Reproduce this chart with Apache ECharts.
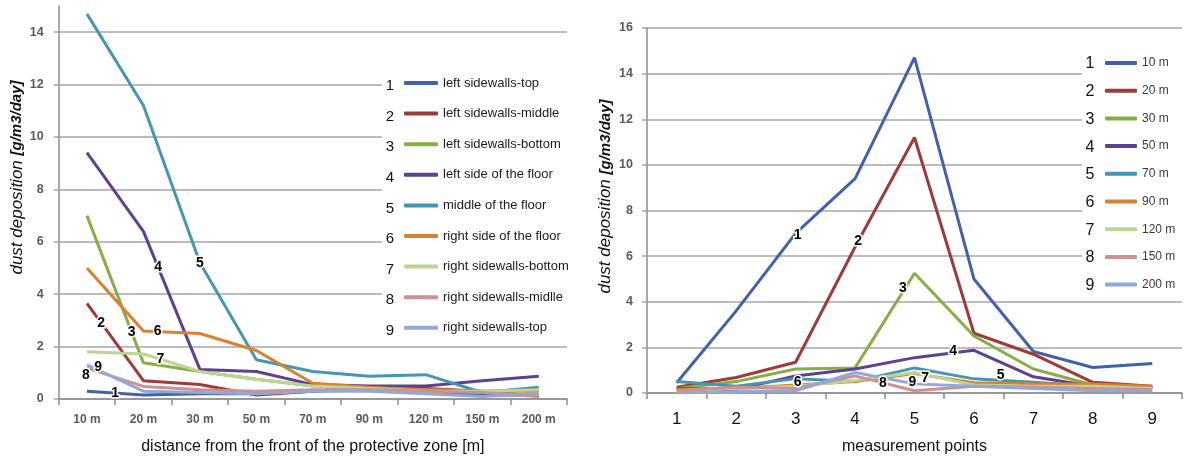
<!DOCTYPE html>
<html><head><meta charset="utf-8">
<script src="https://cdn.jsdelivr.net/npm/echarts@6/dist/echarts.min.js"></script>
<style>html,body{margin:0;padding:0;background:#fff}#c{width:1187px;height:460px}</style>
</head><body><div id="c"></div>
<script>
// ---- data ----
const leftCats = ['10 m','20 m','30 m','50 m','70 m','90 m','120 m','150 m','200 m'];
const rightCats = ['1','2','3','4','5','6','7','8','9'];
const leftNames = ['left sidewalls-top','left sidewalls-middle','left sidewalls-bottom','left side of the floor','middle of the floor','right side of the floor','right sidewalls-bottom','right sidewalls-midlle','right sidewalls-top'];
const rightNames = ['10 m','20 m','30 m','50 m','70 m','90 m','120 m','150 m','200 m'];
const leftTicks = [0,2,4,6,8,10,12,14];
const rightTicks = [0,2,4,6,8,10,12,14,16];

const s1 = [0.3, 0.15, 0.2, 0.2, 0.3, 0.35, 0.25, 0.15, 0.15];
const s2 = [3.65, 0.7, 0.55, 0.15, 0.3, 0.45, 0.4, 0.3, 0.1];
const s3 = [7.0, 1.38, 1.05, 0.75, 0.5, 0.4, 0.35, 0.3, 0.35];
const s4 = [9.4, 6.4, 1.13, 1.05, 0.55, 0.5, 0.5, 0.7, 0.87];
const s5 = [14.7, 11.2, 5.2, 1.5, 1.05, 0.87, 0.93, 0.25, 0.45];
const s6 = [5.0, 2.6, 2.5, 1.85, 0.6, 0.45, 0.35, 0.3, 0.3];
const s7 = [1.8, 1.72, 1.05, 0.75, 0.5, 0.4, 0.3, 0.3, 0.35];
const s8 = [1.18, 0.48, 0.35, 0.3, 0.35, 0.35, 0.3, 0.25, 0.1];
const s9 = [1.3, 0.3, 0.25, 0.2, 0.3, 0.3, 0.2, 0.1, 0.2];

const r10  = [0.45, 3.6, 7.0, 9.4, 14.7, 5.0, 1.82, 1.12, 1.29];
const r20  = [0.25, 0.68, 1.35, 6.4, 11.2, 2.62, 1.7, 0.47, 0.3];
const r30  = [0.2, 0.5, 1.05, 1.1, 5.25, 2.5, 1.05, 0.35, 0.25];
const r50  = [0.2, 0.15, 0.75, 1.05, 1.55, 1.87, 0.71, 0.3, 0.25];
const r70  = [0.5, 0.3, 0.63, 0.5, 1.1, 0.62, 0.47, 0.3, 0.25];
const r90  = [0.15, 0.2, 0.35, 0.5, 0.85, 0.45, 0.4, 0.4, 0.3];
const r120 = [0.1, 0.2, 0.3, 0.55, 0.9, 0.35, 0.3, 0.3, 0.2];
const r150 = [0.1, 0.25, 0.2, 0.75, 0.1, 0.3, 0.25, 0.2, 0.15];
const r200 = [0.0, 0.05, 0.1, 0.9, 0.4, 0.3, 0.2, 0.1, 0.1];

const leftData = [s1,s2,s3,s4,s5,s6,s7,s8,s9];
const rightData = [r10,r20,r30,r50,r70,r90,r120,r150,r200];

// ---- styles ----
const colors = ['#4062a9','#9c3b3a','#86ae45','#5e418e','#4596b0','#d98131','#bcd594','#cf908f','#90a8da'];
// on-line number annotations: series, segment index, fraction along segment, pixel nudge
const leftMarks = [
  {t:'1', s:0, i:0, f:0.5, dx:0, dy:0},
  {t:'2', s:1, i:0, f:0.25, dx:0, dy:0},
  {t:'3', s:2, i:0, f:0.79, dx:0, dy:0},
  {t:'4', s:3, i:1, f:0.26, dx:0, dy:0},
  {t:'5', s:4, i:2, f:0, dx:0, dy:0},
  {t:'6', s:5, i:1, f:0.25, dx:0, dy:0},
  {t:'7', s:6, i:1, f:0.3, dx:0, dy:0},
  {t:'8', s:7, i:0, f:0, dx:-1, dy:7},
  {t:'9', s:8, i:0, f:0.2, dx:0, dy:-3}
];
const rightMarks = [
  {t:'1', s:0, i:2, f:0, dx:2, dy:2},
  {t:'2', s:1, i:3, f:0.05, dx:0, dy:0},
  {t:'3', s:2, i:3, f:0.84, dx:-2, dy:0},
  {t:'4', s:3, i:4, f:0.65, dx:0, dy:-2},
  {t:'5', s:4, i:5, f:0.45, dx:0, dy:-5},
  {t:'6', s:5, i:2, f:0, dx:2, dy:-3},
  {t:'7', s:6, i:4, f:0.18, dx:0, dy:3},
  {t:'8', s:7, i:3, f:0.47, dx:0, dy:0},
  {t:'9', s:8, i:4, f:0, dx:-2, dy:-2}
];

const gridColor = '#a6a6a6';
const axisColor = '#8c8c8c';
const ytitle = '{a|dust deposition }{b|[g/m3/day]}';

const chart = echarts.init(document.getElementById('c'));

function makeSeries(names, data, axisIdx) {
  return names.map((n, k) => ({
    name: n, type: 'line', xAxisIndex: axisIdx, yAxisIndex: axisIdx,
    data: data[k], symbol: 'none', showSymbol: false, smooth: false,
    lineStyle: {width: 3, color: colors[k]}, itemStyle: {color: colors[k]},
    z: 2 + k
  }));
}

const option = {
  animation: false,
  grid: [
    {left: 58.7, right: 620, top: 6, bottom: 55},
    {left: 647, right: 5, top: 28, bottom: 62.5}
  ],
  xAxis: [
    {type: 'category', gridIndex: 0, data: leftCats, boundaryGap: true,
     axisLine: {lineStyle: {color: axisColor, width: 1.5}},
     axisTick: {show: true, length: 6, lineStyle: {color: axisColor, width: 1.5}},
     axisLabel: {color: '#5a5a5a', fontSize: 12, fontWeight: 'bold', fontFamily: 'Liberation Sans', margin: 15},
     name: 'distance from the front of the protective zone [m]', nameLocation: 'middle', nameGap: 40,
     nameTextStyle: {color: '#111', fontSize: 16, fontFamily: 'Liberation Sans'}},
    {type: 'category', gridIndex: 1, data: rightCats, boundaryGap: true,
     axisLine: {lineStyle: {color: axisColor, width: 1.5}},
     axisTick: {show: true, length: 6, lineStyle: {color: axisColor, width: 1.5}},
     axisLabel: {color: '#111', fontSize: 17, fontFamily: 'Liberation Sans', margin: 18},
     name: 'measurement points', nameLocation: 'middle', nameGap: 46,
     nameTextStyle: {color: '#111', fontSize: 16, fontFamily: 'Liberation Sans'}}
  ],
  yAxis: [
    {type: 'value', gridIndex: 0, min: leftTicks[0], max: 15, interval: leftTicks[1] - leftTicks[0],
     axisLine: {show: true, lineStyle: {color: axisColor, width: 1.5}},
     axisTick: {show: true, length: 5, lineStyle: {color: gridColor, width: 1.5}},
     axisLabel: {color: '#5a5a5a', fontSize: 12.5, fontWeight: 'bold', fontFamily: 'Liberation Sans', margin: 15, showMaxLabel: false},
     splitLine: {show: true, showMaxLine: false, lineStyle: {color: gridColor, width: 1.5}},
     name: ytitle, nameLocation: 'middle', nameGap: 33,
     nameTextStyle: {padding: [0, 0, 0, 50], rich: {
       a: {fontStyle: 'italic', fontSize: 17, color: '#111', fontFamily: 'Liberation Sans'},
       b: {fontStyle: 'italic', fontWeight: 'bold', fontSize: 15, color: '#111', fontFamily: 'Liberation Sans'}}}},
    {type: 'value', gridIndex: 1, min: rightTicks[0], max: rightTicks[rightTicks.length - 1], interval: rightTicks[1] - rightTicks[0],
     axisLine: {show: true, lineStyle: {color: axisColor, width: 1.5}},
     axisTick: {show: true, length: 5, lineStyle: {color: gridColor, width: 1.5}},
     axisLabel: {color: '#5a5a5a', fontSize: 12.5, fontWeight: 'bold', fontFamily: 'Liberation Sans', margin: 14},
     splitLine: {show: true, lineStyle: {color: gridColor, width: 1.5}},
     name: ytitle, nameLocation: 'middle', nameGap: 33,
     nameTextStyle: {padding: [0, 0, 0, 28], rich: {
       a: {fontStyle: 'italic', fontSize: 17, color: '#111', fontFamily: 'Liberation Sans'},
       b: {fontStyle: 'italic', fontWeight: 'bold', fontSize: 15, color: '#111', fontFamily: 'Liberation Sans'}}}}
  ],
  legend: [
    {data: leftNames, orient: 'vertical', left: 382, top: 68, selectedMode: false, icon: 'roundRect',
     backgroundColor: '#fff', padding: [8, 4, 10, 22], itemWidth: 34, itemHeight: 4, itemGap: 16.6,
     textStyle: {color: '#1a1a1a', fontSize: 13, lineHeight: 14, fontFamily: 'Liberation Sans'}, z: 10},
    {data: rightNames, orient: 'vertical', left: 1082, top: 48, selectedMode: false, icon: 'roundRect',
     backgroundColor: '#fff', padding: [8, 14, 8, 23], itemWidth: 32, itemHeight: 4, itemGap: 13.7,
     textStyle: {color: '#3a3a3a', fontSize: 12, lineHeight: 14, fontFamily: 'Liberation Sans'}, z: 10}
  ],
  series: makeSeries(leftNames, leftData, 0).concat(makeSeries(rightNames, rightData, 1))
};
chart.setOption(option);

function markGraphics(marks, data, gi) {
  return marks.map(m => {
    const d = data[m.s];
    const p0 = chart.convertToPixel({gridIndex: gi}, [m.i, d[m.i]]);
    const j = Math.min(m.i + 1, d.length - 1);
    const p1 = chart.convertToPixel({gridIndex: gi}, [j, d[j]]);
    const x = p0[0] + (p1[0] - p0[0]) * m.f + m.dx;
    const y = p0[1] + (p1[1] - p0[1]) * m.f + m.dy;
    return {type: 'text', x: x, y: y, z: 50,
      style: {text: m.t, fontSize: 14, fontWeight: 'bold', fontFamily: 'Liberation Sans', fill: '#000',
        stroke: '#fff', lineWidth: 3, align: 'center', verticalAlign: 'middle'}};
  });
}
function legendNumbers(count, x, y0, step, size) {
  const out = [];
  for (let k = 0; k < count; k++) {
    out.push({type: 'text', x: x, y: y0 + k * step, z: 60,
      style: {text: String(k + 1), fontSize: size, fontFamily: 'Liberation Sans', fill: '#111', align: 'center', verticalAlign: 'middle'}});
  }
  return out;
}
chart.setOption({graphic: [].concat(
  markGraphics(leftMarks, leftData, 0),
  markGraphics(rightMarks, rightData, 1),
  legendNumbers(9, 390, 86, 30.6, 15),
  legendNumbers(9, 1090, 64, 27.7, 16)
)});
</script></body></html>
